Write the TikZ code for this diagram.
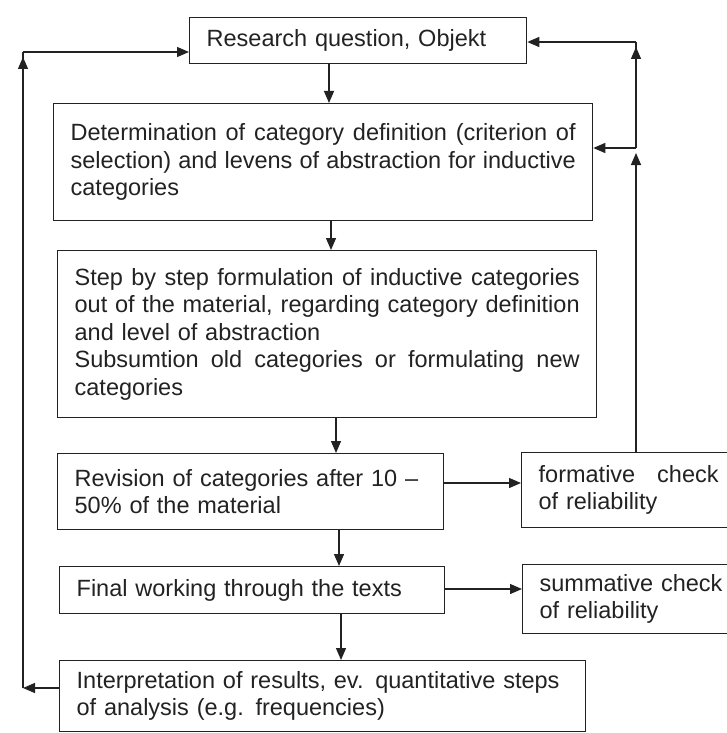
\documentclass[tikz,border=0pt]{standalone}
\usepackage{fontspec}
\setmainfont{Liberation Sans}
\usetikzlibrary{arrows.meta}
\definecolor{ink}{HTML}{222222}
\newcommand{\jl}[1]{\leavevmode\hbox to \hsize{\spaceskip=0.28em plus 1fill\relax #1}}
\begin{document}
\begin{tikzpicture}[x=1pt,y=-1pt,
  box/.style={draw=ink, text=ink, line width=1.3pt, anchor=north west, inner xsep=17pt, inner ysep=0pt, align=left, font=\fontsize{23.5}{27.5}\selectfont},
  arr/.style={draw=ink, line width=1.3pt, -{Triangle[length=12pt,width=10pt]}},
  ln/.style={draw=ink, line width=1.3pt}]
\useasboundingbox (0,0) rectangle (727,733);
\clip (0,0) rectangle (727,733);

\node[box, minimum width=337pt, minimum height=46pt, text width=303pt] (R) at (189,17) {Research question, Objekt};
\node[box, minimum width=539pt, minimum height=117pt, text width=505pt] (D) at (53,103)
  {\jl{Determination of category definition (criterion of}\\
   \jl{selection) and levens of abstraction for inductive}\\
   categories};
\node[box, minimum width=539pt, minimum height=167pt, text width=505pt] (S) at (57,250)
  {\jl{Step by step formulation of inductive categories}\\
   \jl{out of the material, regarding category definition}\\
   and level of abstraction\\
   \jl{Subsumtion old categories or formulating new}\\
   categories};
\node[box, minimum width=386pt, minimum height=76pt, text width=352pt] (V) at (57,453)
  {Revision of categories after 10 --\\50\% of the material};
\node[box, minimum width=214pt, minimum height=75pt, text width=180pt] (F) at (521,452)
  {\jl{formative check}\\of reliability};
\node[box, minimum width=224pt, minimum height=69pt, text width=190pt] (M) at (522,564)
  {summative check\\of reliability};
\node[box, minimum width=385pt, minimum height=47pt, text width=351pt] (W) at (59,566)
  {Final working through the texts};
\node[box, minimum width=526pt, minimum height=71pt, text width=492pt] (I) at (59,660)
  {Interpretation of results, ev. quantitative steps\\of analysis (e.g. frequencies)};

% vertical flow
\coordinate (x1) at (329,0);
\coordinate (x2) at (331,0);
\coordinate (x3) at (336,0);
\coordinate (x4) at (339,0);
\coordinate (x5) at (341,0);
\draw[arr] (R.south -| x1) -- (D.north -| x1);
\draw[arr] (D.south -| x2) -- (S.north -| x2);
\draw[arr] (S.south -| x3) -- (V.north -| x3);
\draw[arr] (V.south -| x4) -- (W.north -| x4);
\draw[arr] (W.south -| x5) -- (I.north -| x5);

% side checks
\coordinate (y1) at (0,483);
\coordinate (y2) at (0,589);
\draw[arr] (V.east |- y1) -- (F.west |- y1);
\draw[arr] (W.east |- y2) -- (M.west |- y2);

% right feedback loop
\coordinate (rc) at (636,148);
\coordinate (rca) at (636,153);
\coordinate (rt) at (636,42);
\coordinate (rta) at (636,47);
\draw[arr] (F.north -| rca) -- (rca);
\draw[arr] (rc) -- (D.east |- rc);
\draw[ln] (rc) -- (rt);
\draw[arr] (rc) -- (rta);
\draw[arr] (rt) -- (R.east |- rt);

% left feedback loop
\coordinate (lb) at (23,688);
\coordinate (lt) at (23,52);
\coordinate (lta) at (23,57);
\draw[arr] (I.west |- lb) -- (lb);
\draw[ln] (lb) -- (lt);
\draw[arr] (lb) -- (lta);
\draw[arr] (lt) -- (R.west |- lt);
\end{tikzpicture}
\end{document}
